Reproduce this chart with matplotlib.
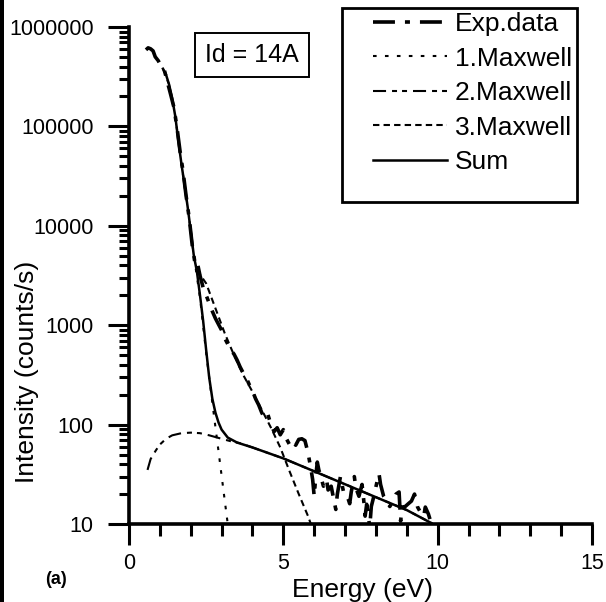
import matplotlib
matplotlib.use("Agg")
import numpy as np
import matplotlib.pyplot as plt
from matplotlib import ticker
from matplotlib.patches import Rectangle

plt.rcParams['font.family'] = ['Liberation Sans', 'DejaVu Sans']
plt.rcParams['lines.scale_dashes'] = False

# Measured spectrum (Id = 14 A)
exp_energy = [0.55, 0.62, 0.70, 0.78, 0.85, 0.95, 1.05, 1.15, 1.25, 1.35,
              1.45, 1.55, 1.65, 1.75, 1.85, 1.95, 2.05, 2.15, 2.22, 2.3,
              2.4, 2.5, 2.6, 2.7, 2.8, 2.9, 3.0, 3.1, 3.2, 3.3,
              3.4, 3.5, 3.6, 3.7, 3.8, 3.9, 4.0, 4.1, 4.2, 4.3,
              4.4, 4.5, 4.6, 4.7, 4.8, 4.9, 5.0, 5.1, 5.2, 5.3,
              5.4, 5.5, 5.6, 5.7, 5.8, 5.9, 5.95, 6.0, 6.05, 6.1,
              6.15, 6.2, 6.3, 6.4, 6.45, 6.55, 6.6, 6.7, 6.75, 6.85,
              6.95, 7.05, 7.15, 7.2, 7.3, 7.35, 7.45, 7.55, 7.6, 7.65,
              7.7, 7.8, 7.85, 7.95, 8.05, 8.1, 8.15, 8.25, 8.35, 8.45,
              8.55, 8.65, 8.75, 8.8, 8.85, 8.95, 9.05, 9.15, 9.25, 9.35,
              9.45, 9.55, 9.6, 9.7, 9.75]
exp_counts = [589000, 617000, 603000, 575000, 501000, 457000, 398000, 363000, 275000, 209000,
              158000, 100000, 57500, 35500, 20000, 12000, 6310, 3980, 4170, 3160,
              2400, 2000, 1660, 1380, 1170, 1020, 891, 741, 646, 562,
              513, 447, 380, 331, 295, 251, 219, 182, 158, 132,
              115, 126, 100, 85, 93, 79, 89, 72, 63, 69,
              62, 71, 72, 69, 52, 35, 28, 19, 30, 42,
              35, 31, 24, 28, 22, 24, 20, 14, 20, 30,
              21, 20, 16, 21, 30, 23, 19, 25, 18, 12,
              15.8, 9.3, 15, 20, 28, 32, 25, 19, 17, 15,
              17, 20, 21, 10.7, 14.8, 15, 16, 17, 20, 14.8,
              13, 12, 14.8, 12.6, 11.2]

# Fitted Maxwellian components
m1_energy = [1.1, 1.3, 1.5, 1.7, 1.9, 2.1, 2.3, 2.5, 2.7, 2.9, 3.1, 3.22]
m1_counts = [380000, 263000, 126000, 41700, 15500, 5010, 1900, 525, 166, 54, 17.4, 8.9]

m2_energy = [0.6, 0.7, 0.87, 1.0, 1.2, 1.4, 1.7, 2.0, 2.3, 2.6, 3.0, 3.3, 3.6, 4.0,
             5.0, 6.0, 7.0, 8.0, 9.0, 9.8]
m2_counts = [35, 45, 55, 63, 72, 78, 82, 83, 82, 78, 72, 68, 65, 58.9,
             45.7, 33.9, 25.1, 18.6, 13.8, 10.2]

m3_energy = [2.2, 2.5, 2.8, 3.1, 3.4, 3.7, 4.0, 4.3, 4.6, 4.9, 5.2, 5.5, 5.8, 5.95]
m3_counts = [3600, 2630, 1480, 832, 501, 316, 214, 141, 93, 59, 34, 20, 12, 8.9]

sum_energy = [1.1, 1.2, 1.3, 1.4, 1.5, 1.6, 1.7, 1.8, 1.9, 2.0, 2.1, 2.2, 2.3, 2.4,
              2.5, 2.6, 2.7, 2.8, 2.9, 3.0, 3.2, 3.5, 4.0, 5.0, 6.0, 7.0, 8.0, 9.0, 9.8]
sum_counts = [380000, 331000, 263000, 191000, 126000, 70800, 41700, 25700, 15500, 8900,
              5010, 3470, 2000, 1120, 562, 295, 182, 132, 105, 89, 74, 66, 58.9, 45.7,
              33.9, 25.1, 18.6, 13.8, 10.2]

y_major = [10, 100, 1000, 10000, 100000, 1000000]
x_major = [0, 5, 10, 15]

W, H = 606, 602
fig = plt.figure(figsize=(W / 100, H / 100), dpi=100)
ax = fig.add_axes([129 / W, 1 - 524 / H, 463 / W, 497 / H])

ax.plot(exp_energy, exp_counts, color='black', lw=2.6, dashes=(15.8, 7.2, 3.6, 7.2),
        label='Exp.data')
ax.plot(m1_energy, m1_counts, color='black', lw=1.5, dashes=(2.6, 6.0), label='1.Maxwell')
ax.plot(m2_energy, m2_counts, color='black', lw=1.5,
        dashes=(9.4, 4.3, 3.6, 3.6, 3.6, 4.3), label='2.Maxwell')
ax.plot(m3_energy, m3_counts, color='black', lw=1.5, dashes=(4.6, 3.0), label='3.Maxwell')
ax.plot(sum_energy, sum_counts, color='black', lw=1.8, ls='-', label='Sum')

ax.set_yscale('log')
ax.set_xlim(0, 15)
ax.set_ylim(10, 1e6)

ax.yaxis.set_major_locator(ticker.FixedLocator(y_major))
ax.yaxis.set_major_formatter(ticker.FuncFormatter(lambda v, _: f"{v:.0f}"))
ax.yaxis.set_minor_locator(ticker.LogLocator(base=10, subs=np.arange(2, 10)))
ax.yaxis.set_minor_formatter(ticker.NullFormatter())
ax.xaxis.set_major_locator(ticker.FixedLocator(x_major))
ax.xaxis.set_minor_locator(ticker.MultipleLocator(1))

for side in ('top', 'right'):
    ax.spines[side].set_visible(False)
for side in ('left', 'bottom'):
    ax.spines[side].set_linewidth(2.6)

ax.tick_params(which='both', direction='out', width=2.2, labelsize=15.5, colors='black')
ax.tick_params(axis='y', which='major', length=15, pad=10.5)
ax.tick_params(axis='y', which='minor', length=7.2)
ax.tick_params(axis='x', which='major', length=15, pad=6)
ax.tick_params(axis='x', which='minor', length=8.5)

fig.text(27 / W, 1 - 372 / H, 'Intensity (counts/s)', rotation=90, fontsize=19,
         ha='center', va='center')
fig.text(362 / W, 1 - 590 / H, 'Energy (eV)', fontsize=19, ha='center', va='center')
fig.text(56 / W, 1 - 580 / H, '(a)', fontsize=13, fontweight='bold', ha='center',
         va='center')

fig.text(252 / W, 1 - 55 / H, 'Id = 14A', fontsize=18, ha='center', va='center',
         bbox=dict(boxstyle='square,pad=0.4', fc='white', ec='black', lw=1.4))

# Legend entries with a separate frame
handles, labels = ax.get_legend_handles_labels()
fig.legend(handles, labels, loc='upper left', bbox_to_anchor=(373 / W, 1 - 12 / H),
           frameon=False, borderpad=0, borderaxespad=0, handlelength=2.8,
           handletextpad=0.3, labelspacing=0.4, fontsize=19)
fig.add_artist(Rectangle((342 / W, 1 - 202 / H), 235 / W, 194 / H,
                         transform=fig.transFigure, fill=False, ec='black', lw=2))

# dark strip along the left edge
fig.add_artist(Rectangle((0, 0), 4 / W, 1, transform=fig.transFigure,
                         fc='black', ec='none'))

fig.savefig('out.png', dpi=100)
